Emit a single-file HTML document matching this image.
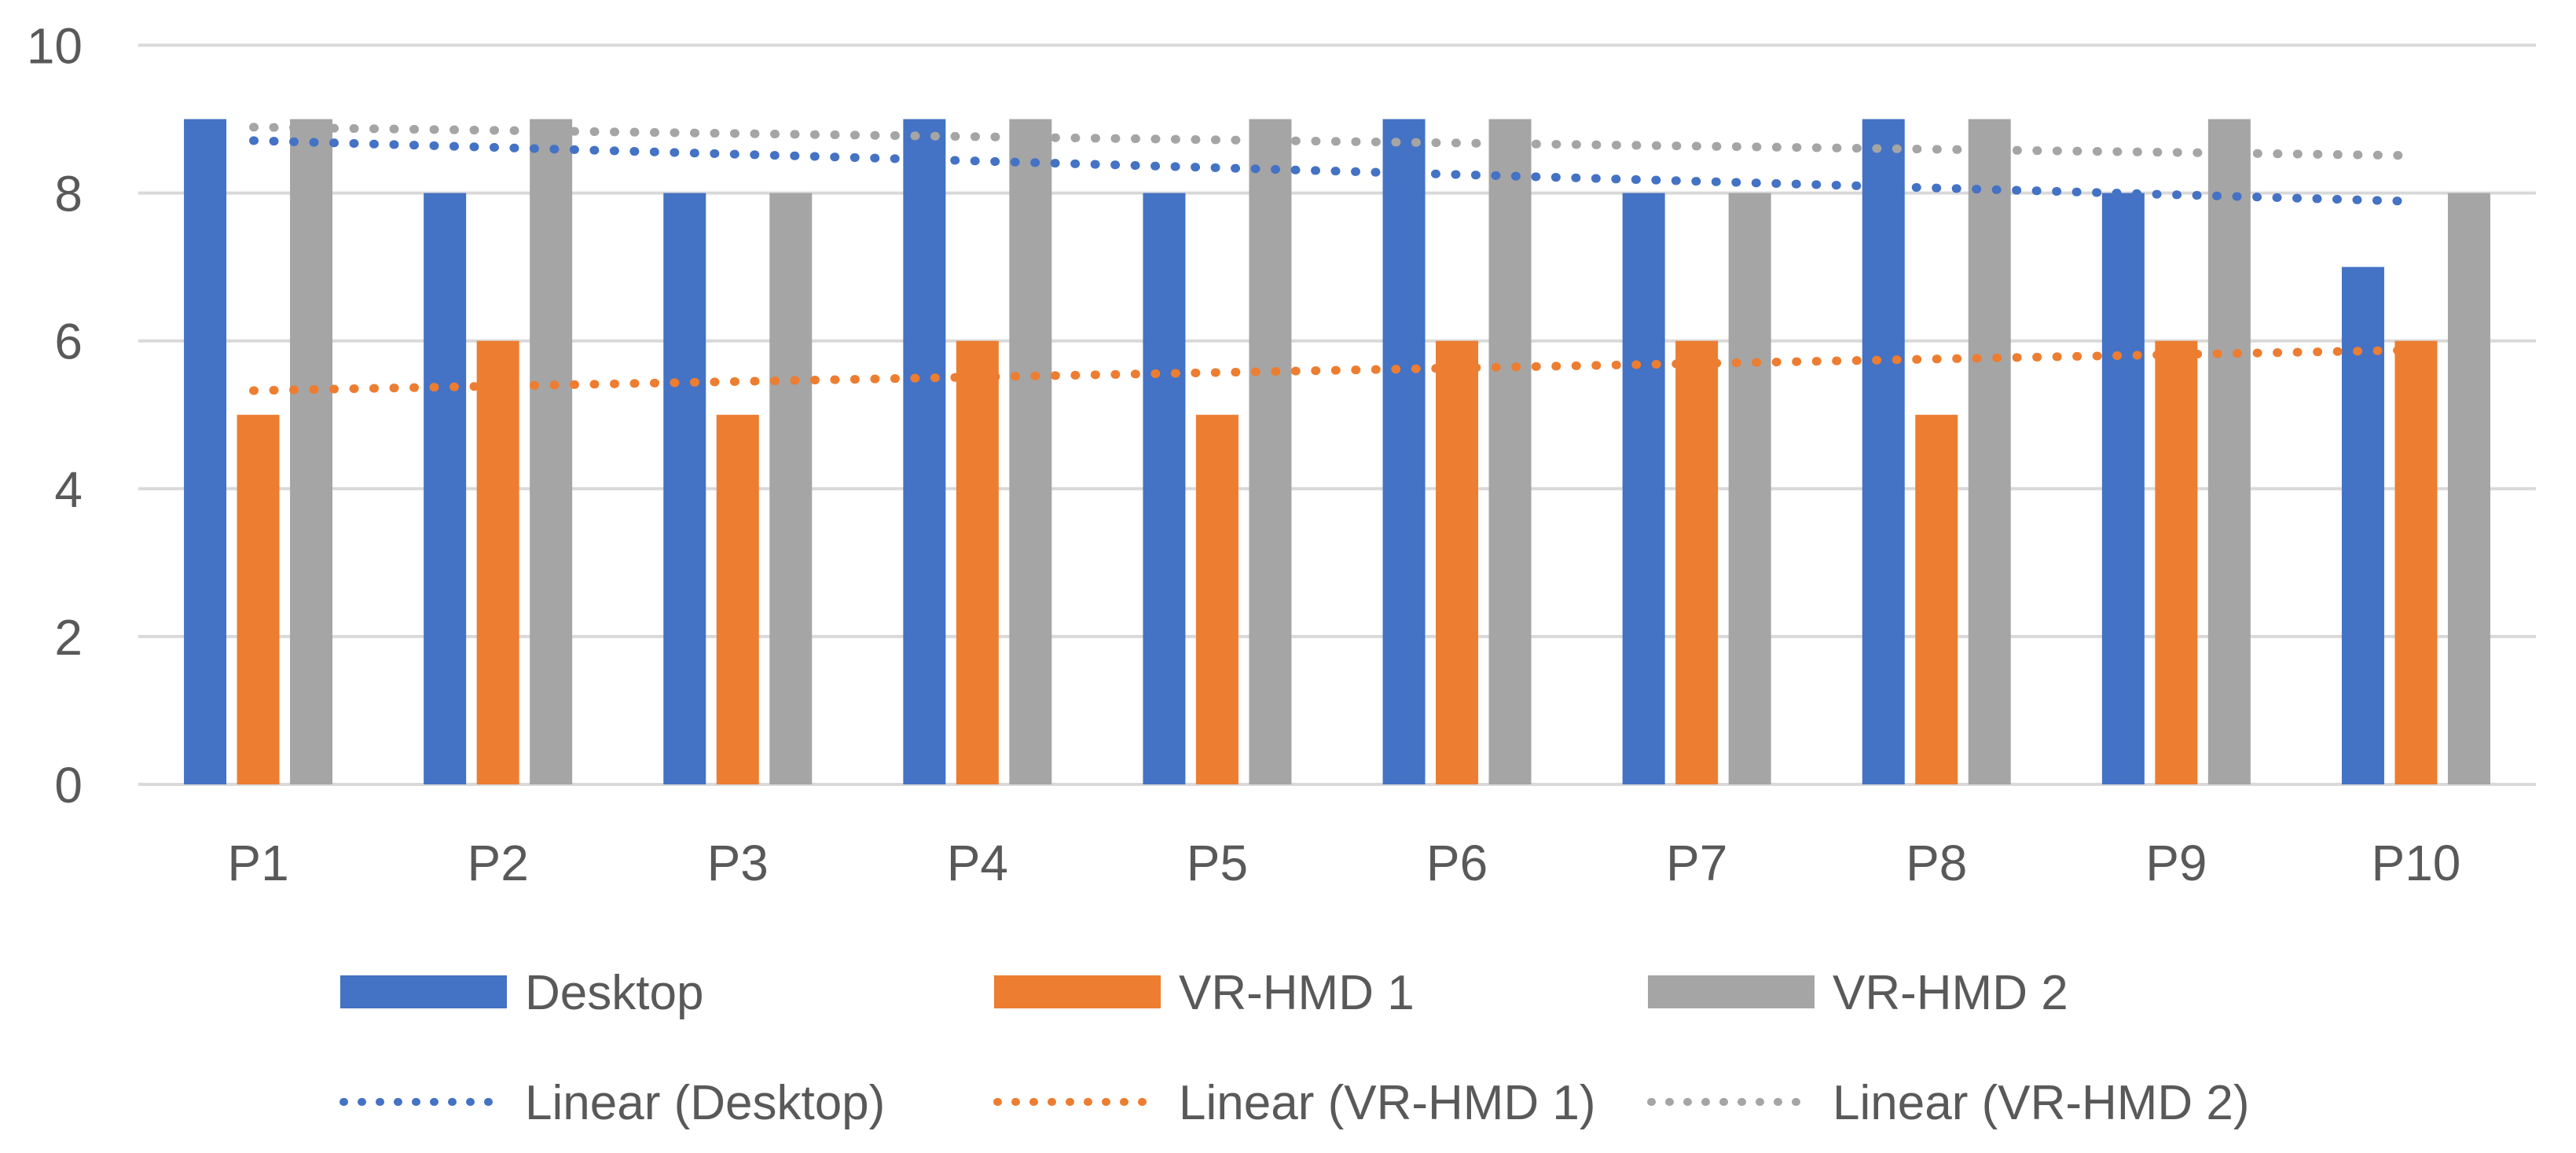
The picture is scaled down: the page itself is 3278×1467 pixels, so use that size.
<!DOCTYPE html>
<html><head><meta charset="utf-8"><style>
html,body{margin:0;padding:0;background:#fff;}
svg{display:block;font-family:"Liberation Sans",sans-serif;}
</style></head><body>
<svg id="chart" width="3278" height="1467" viewBox="0 0 3278 1467" xmlns="http://www.w3.org/2000/svg">
<g id="grid"></g>
<g id="yaxis"></g>
<g id="bars"></g>
<g id="trends"></g>
<g id="xaxis"></g>
<g id="legend"></g>
</svg>
<script>
const categories = ["P1","P2","P3","P4","P5","P6","P7","P8","P9","P10"];
const desktop = [9,8,8,9,8,9,8,9,8,7];
const vrhmd1 = [5,6,5,6,5,6,6,5,6,6];
const vrhmd2 = [9,9,8,9,9,9,8,9,9,8];
const yTicks = [0,2,4,6,8,10];
const seriesNames = ["Desktop","VR-HMD 1","VR-HMD 2"];
const colors = ["#4472C4","#ED7D31","#A5A5A5"];
const NS = "http://www.w3.org/2000/svg";
const L = 176, R = 3227, T = 57.5, B = 998;
const yMax = 10;
const band = (R - L) / categories.length;
const barW = 54, gap = 13.5;
function y(v){ return B - (v / yMax) * (B - T); }
function xc(i){ return L + band * (i + 0.5); }
function mk(tag, attrs, parent){ const e = document.createElementNS(NS, tag); for (const k in attrs) e.setAttribute(k, attrs[k]); parent.appendChild(e); return e; }
const grid = document.getElementById('grid'), yaxis = document.getElementById('yaxis');
yTicks.forEach(t => {
  const g = mk('line', {x1:L, x2:R, y1:y(t), y2:y(t), stroke:'#d9d9d9', 'stroke-width':4}, grid);
  
  
  const lb = mk('text', {x:105, y:y(t)+23, 'text-anchor':'end', 'font-size':64, fill:'#595959'}, yaxis);
  lb.textContent = t;
  
  
});
const bars = document.getElementById('bars');
const series = [desktop, vrhmd1, vrhmd2];
series.forEach((s, si) => {
  s.forEach((v, i) => {
    const x0 = xc(i) - (3*barW + 2*gap)/2 + si*(barW+gap);
    const r = mk('rect', {x:x0, y:y(v), width:barW, height:B - y(v), fill:colors[si]}, bars);
    
    
  });
});
const trends = document.getElementById('trends');
const trendOrder = [2,0,1];
trendOrder.forEach(si => {
  const s = series[si], n = s.length;
  const mx = (n-1)/2, my = s.reduce((a,b)=>a+b,0)/n;
  let num=0, den=0;
  s.forEach((v,i)=>{ num += (i-mx)*(v-my); den += (i-mx)*(i-mx); });
  const slope = num/den, icpt = my - slope*mx;
  const ln = mk('line', {x1:xc(0)-6, y1:y(icpt), x2:xc(n-1)-18, y2:y(icpt+slope*(n-1)), stroke:colors[si], 'stroke-width':11, 'stroke-linecap':'round', 'stroke-dasharray':'1 24.5'}, trends);
  
  
});
const xaxis = document.getElementById('xaxis');
categories.forEach((c,i) => {
  const t = mk('text', {x:xc(i), y:1120, 'text-anchor':'middle', 'font-size':64, fill:'#595959'}, xaxis);
  t.textContent = c;
  
  
});
const legend = document.getElementById('legend');
const lx = [433, 1265, 2097];
seriesNames.forEach((nm, si) => {
  const sw = mk('rect', {x:lx[si], y:1241, width:212, height:42, fill:colors[si]}, legend);
  
  
  const t = mk('text', {x:lx[si]+235, y:1284, 'font-size':62, fill:'#595959'}, legend);
  t.textContent = nm;
  
  
  const ln = mk('line', {x1:lx[si]+4, x2:lx[si]+210, y1:1402, y2:1402, stroke:colors[si], 'stroke-width':10, 'stroke-linecap':'round', 'stroke-dasharray':'1 22'}, legend);
  
  
  const t2 = mk('text', {x:lx[si]+235, y:1424, 'font-size':62, fill:'#595959'}, legend);
  t2.textContent = 'Linear (' + nm + ')';
  
  
});
</script>
</body></html>
